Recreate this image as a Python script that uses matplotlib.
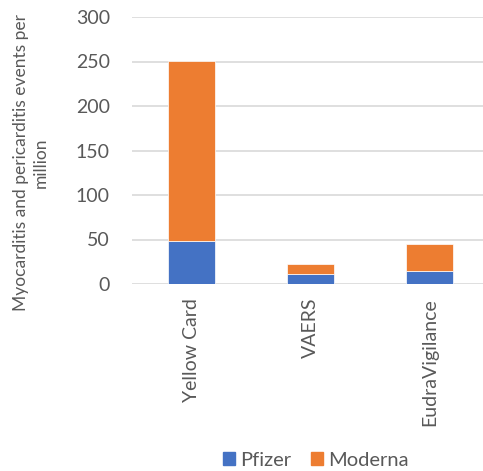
import matplotlib.pyplot as plt
from matplotlib.patches import Patch

sources = ["Yellow Card", "VAERS", "EudraVigilance"]
pfizer = [48, 11, 15]
moderna = [203, 12, 30]

blue = "#4472C4"
orange = "#ED7D31"
grey = "#595959"

plt.rcParams['font.family'] = ['Lato', 'DejaVu Sans']

fig = plt.figure(figsize=(4.83, 4.71), dpi=100)
ax = fig.add_axes([132 / 483, 1 - 284 / 471, 1 - 132 / 483, 267 / 471])

x = range(len(sources))
ax.bar(x, pfizer, width=0.4, color=blue, edgecolor="white", linewidth=0.5, zorder=3)
ax.bar(x, moderna, width=0.4, bottom=pfizer, color=orange, edgecolor="white", linewidth=0.5, zorder=3)

ax.set_ylim(0, 300)
ax.set_xlim(-0.5, 2.45)
ax.set_yticks(range(0, 301, 50))
ax.set_xticks(list(x))
ax.set_xticklabels(sources, rotation=90, va="top")
ax.tick_params(axis="both", length=0, colors=grey, labelsize=14)
ax.tick_params(axis="y", pad=16)
ax.tick_params(axis="x", pad=10)
ax.grid(axis="y", color="#D9D9D9", linewidth=1.2, zorder=0)
for s in ax.spines.values():
    s.set_visible(False)

fig.text(31 / 483, 1 - 163 / 471, "Myocarditis and pericarditis events per\nmillion",
         rotation=90, ha="center", va="center", color=grey, fontsize=12.5,
         linespacing=1.3)

handles = [Patch(color=blue, label="Pfizer"), Patch(color=orange, label="Moderna")]
fig.legend(handles=handles, loc="center", bbox_to_anchor=(316 / 483, 1 - 460 / 471),
           ncol=2, frameon=False, fontsize=14.5, labelcolor=grey,
           handlelength=0.6, handleheight=0.6, handletextpad=0.25, columnspacing=1.0)

fig.savefig("out.png", dpi=100)
